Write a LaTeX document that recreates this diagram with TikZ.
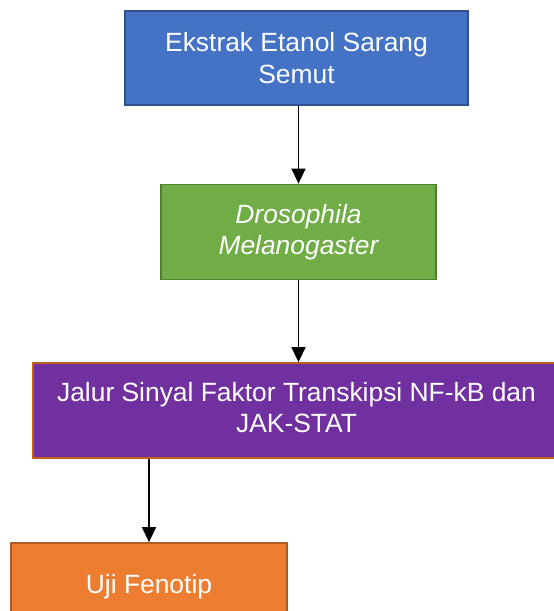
\documentclass[tikz,border=0pt]{standalone}
\usepackage{fontspec}
\setmainfont{Liberation Sans}
\usetikzlibrary{arrows.meta}
\definecolor{bluefill}{HTML}{4472C4}
\definecolor{blueline}{HTML}{2F528F}
\definecolor{greenfill}{HTML}{70AD47}
\definecolor{greenline}{HTML}{507E32}
\definecolor{purplefill}{HTML}{7030A0}
\definecolor{purpleline}{HTML}{C0601A}
\definecolor{orangefill}{HTML}{ED7D31}
\definecolor{orangeline}{HTML}{AE5A21}
\tikzset{
  box/.style={rectangle, inner sep=0pt, line width=1.8pt, text=white, align=center,
    font=\fontsize{26.4}{31.5}\selectfont},
  conn/.style={line width=1.5pt, -{Triangle[width=14pt,length=15pt]}}
}
\begin{document}
\begin{tikzpicture}[x=1pt,y=-1pt]
\useasboundingbox (0,0) rectangle (554,611);
\clip (0,0) rectangle (554,611);
\node[box, fill=bluefill, draw=blueline, minimum width=343pt, minimum height=94pt] (blue) at (296.5,58) {Ekstrak Etanol Sarang\\Semut};
\node[box, fill=greenfill, draw=greenline, minimum width=275pt, minimum height=95pt] (green) at (298.5,232) {\itshape Drosophila\\\itshape Melanogaster};
\node[box, fill=purplefill, draw=purpleline, minimum width=527pt, minimum height=95pt] (purple) at (296.5,410.5) {\raisebox{4pt}{\begin{tabular}{@{}c@{}}Jalur Sinyal Faktor Transkipsi NF-kB dan\\JAK-STAT\end{tabular}}};
\node[box, fill=orangefill, draw=orangeline, minimum width=276pt, minimum height=95pt] (orange) at (149,590.5) {\raisebox{14pt}{Uji Fenotip}};
\draw[conn] (green.north |- blue.south) -- (green.north);
\draw[conn] (green.south) -- (green.south |- purple.north);
\draw[conn] (orange.north |- purple.south) -- (orange.north);
\end{tikzpicture}
\end{document}
